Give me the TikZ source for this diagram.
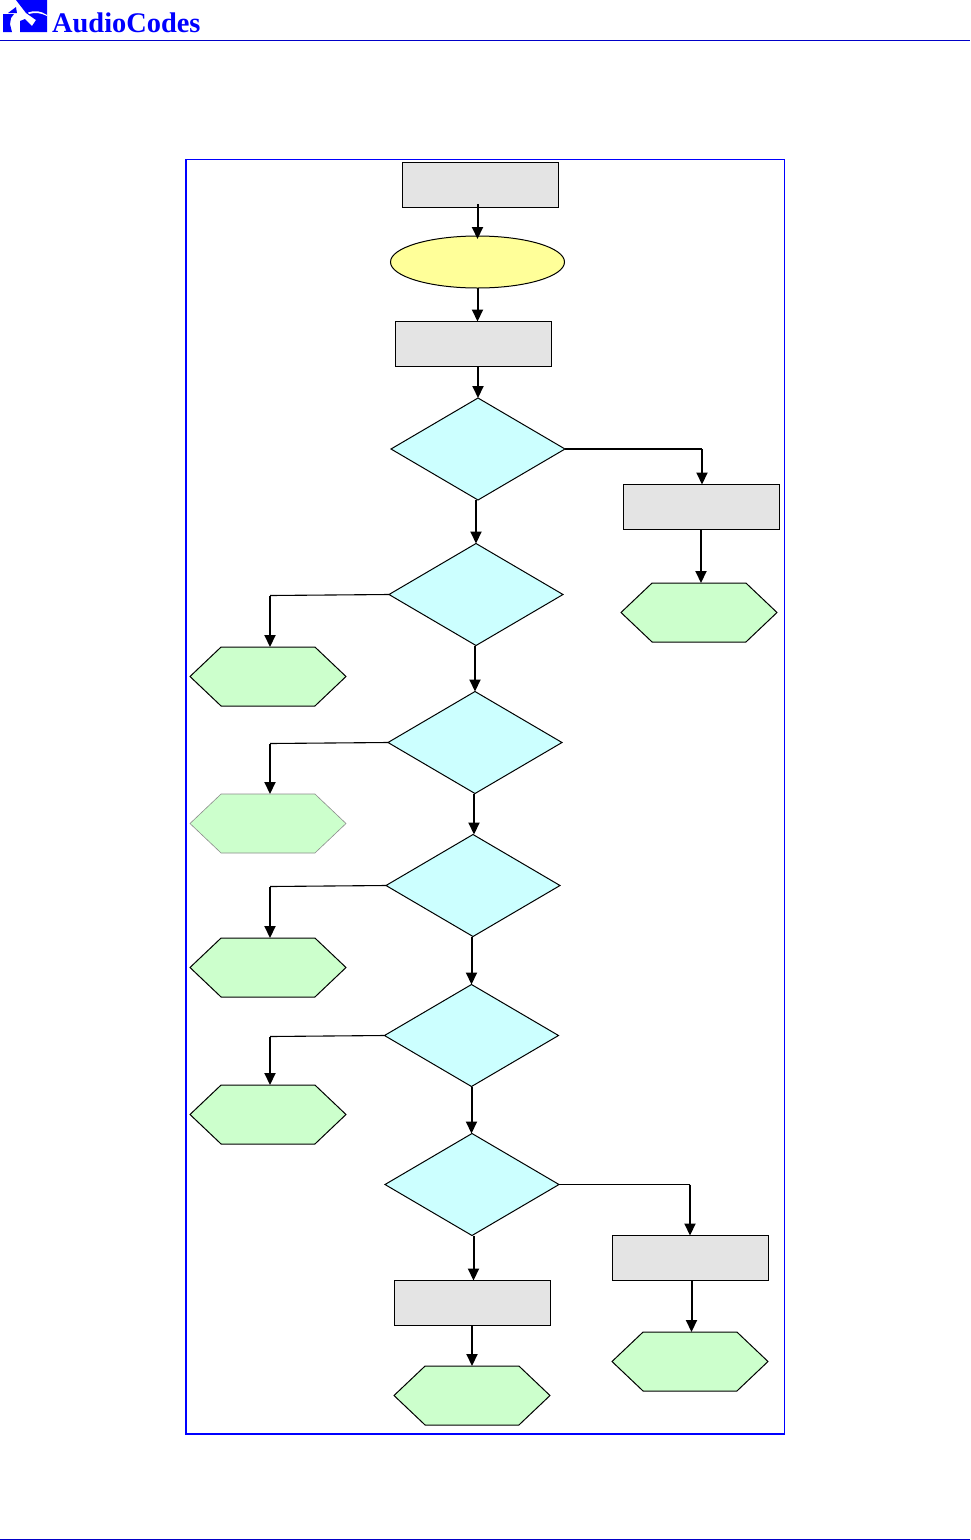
\documentclass[tikz,border=0pt]{standalone}
\usepackage{fontspec}
\setmainfont{Liberation Serif}
\usetikzlibrary{arrows.meta,shapes.geometric,shapes.symbols}
\definecolor{procgray}{HTML}{E4E4E4}
\definecolor{startyellow}{HTML}{FFFF99}
\definecolor{testcyan}{HTML}{CCFFFF}
\definecolor{endgreen}{HTML}{CCFFCC}
\definecolor{ruleblue}{HTML}{0000C8}
\definecolor{logoblue}{HTML}{0000FF}
\tikzset{
  procbox/.style={draw=black,line width=1pt,fill=procgray,rectangle,minimum width=156pt,minimum height=45pt,inner sep=0pt,outer sep=0pt},
  startoval/.style={draw=black,line width=1pt,fill=startyellow,ellipse,minimum width=174pt,minimum height=52pt,inner sep=0pt,outer sep=0pt},
  testdiamond/.style={draw=black,line width=1pt,fill=testcyan,diamond,aspect=1.7,minimum width=174pt,minimum height=102pt,inner sep=0pt,outer sep=0pt},
  endhex/.style={draw=black,line width=1pt,fill=endgreen,signal,signal to=east and west,signal pointer angle=87,minimum width=156pt,minimum height=59pt,inner sep=0pt,outer sep=0pt},
  faint/.style={draw=black!45,line width=.6pt},
  flow/.style={draw=black,line width=2pt,-{Triangle[width=11pt,length=12pt]}},
  plainline/.style={draw=black,line width=1.1pt},
}
\begin{document}
\begin{tikzpicture}[x=1pt,y=-1pt]
\useasboundingbox (0,0) rectangle (970,1540);
\fill[white] (0,0) rectangle (970,1540);
% header and footer
\coordinate (hl) at (0,40); \coordinate (hr) at (970,40);
\coordinate (fl) at (0,1539); \coordinate (fr) at (970,1539);
\draw[ruleblue,line width=.9pt] (hl) -- (hr);
\draw[ruleblue,line width=1pt] (fl) -- (fr);
% logo
\fill[logoblue] (3,14) -- (14,14) -- (11,18) -- (10,24) -- (12,32) -- (3,32) -- cycle;
\fill[logoblue] (16,0) -- (47,0) -- (47,32) -- (20,32) -- (20,21) -- (25,19) -- (32,26) -- (36,20) -- (26,13) -- cycle;
\fill[logoblue] (8,13) -- (16,7) -- (17,13) -- cycle;
\fill[white] (28,12.5) .. controls (35,10) and (41,11) .. (47,15) -- (47,16) .. controls (41,13) and (35,12) .. (29,14) -- cycle;
\node[anchor=base west,inner sep=0pt,text=logoblue,font=\bfseries\fontsize{28.4}{30}\selectfont] (logo) at (52,32) {AudioCodes};
% frame
\draw[logoblue,line width=.9pt] (186,159) rectangle (784,1434);
\draw[logoblue,line width=1.5pt] (186,159) -- (186,1434) -- (784,1434);
% nodes
\node[procbox] (r1) at (480,184.5) {};
\node[startoval] (e1) at (477.5,262) {};
\node[procbox] (r2) at (473.5,344) {};
\node[testdiamond] (d1) at (478,449) {};
\node[procbox] (rr1) at (701,507) {};
\node[endhex] (hr1) at (699,612.5) {};
\node[testdiamond] (d2) at (476,594.5) {};
\node[endhex] (hl1) at (268,676.5) {};
\node[testdiamond] (d3) at (475,742.5) {};
\node[endhex,faint] (hl2) at (268,823.5) {};
\node[testdiamond] (d4) at (473,885.5) {};
\node[endhex] (hl3) at (268,967.5) {};
\node[testdiamond] (d5) at (471.5,1035.5) {};
\node[endhex] (hl4) at (268,1114.5) {};
\node[testdiamond] (d6) at (472,1184.5) {};
\node[procbox] (rr2) at (690,1258) {};
\node[endhex] (hr2) at (690,1361.5) {};
\node[procbox] (rb) at (472,1303) {};
\node[endhex] (hb) at (472,1395.5) {};
% connectors
\draw[flow] ([yshift=3pt]e1.north |- r1.south) -- ([yshift=-3pt]e1.north);
\draw[flow] (e1.south) -- (e1.south |- r2.north);
\draw[flow] (d1.north |- r2.south) -- (d1.north);
\draw[flow] (d2.north |- d1.south) -- (d2.north);
\draw[flow] (d3.north |- d2.south) -- (d3.north);
\draw[flow] ([xshift=-1pt]d3.south) -- ([xshift=-1pt]d3.south |- d4.north);
\draw[flow] (d5.south |- d4.south) -- (d5.south |- d5.north);
\draw[flow] (d5.south) -- (d5.south |- d6.north);
\draw[flow] ([xshift=1.5pt]d6.south) -- ([xshift=1.5pt]rb.north);
\draw[flow] (rb.south) -- (hb.north);
\draw[plainline] (d1.east) -- ([xshift=1pt]rr1.north |- d1.east);
\draw[flow] ([xshift=1pt]rr1.north |- d1.east) -- ([xshift=1pt]rr1.north);
\draw[flow] (rr1.south) -- ([xshift=2pt]hr1.north);
\foreach \d/\h in {d2/hl1,d3/hl2,d4/hl3,d5/hl4}{
  \draw[plainline] (\d.west) -- ([xshift=2pt,yshift=-1pt]\h.north |- \d.west);
  \draw[flow] ([xshift=2pt,yshift=-1pt]\h.north |- \d.west) -- ([xshift=2pt]\h.north);
}
\draw[plainline,line width=.9pt] (d6.east) -- (rr2.north |- d6.east);
\draw[flow] (rr2.north |- d6.east) -- (rr2.north);
\draw[flow] ([xshift=1.5pt]rr2.south) -- ([xshift=1.5pt]hr2.north);
\end{tikzpicture}
\end{document}
